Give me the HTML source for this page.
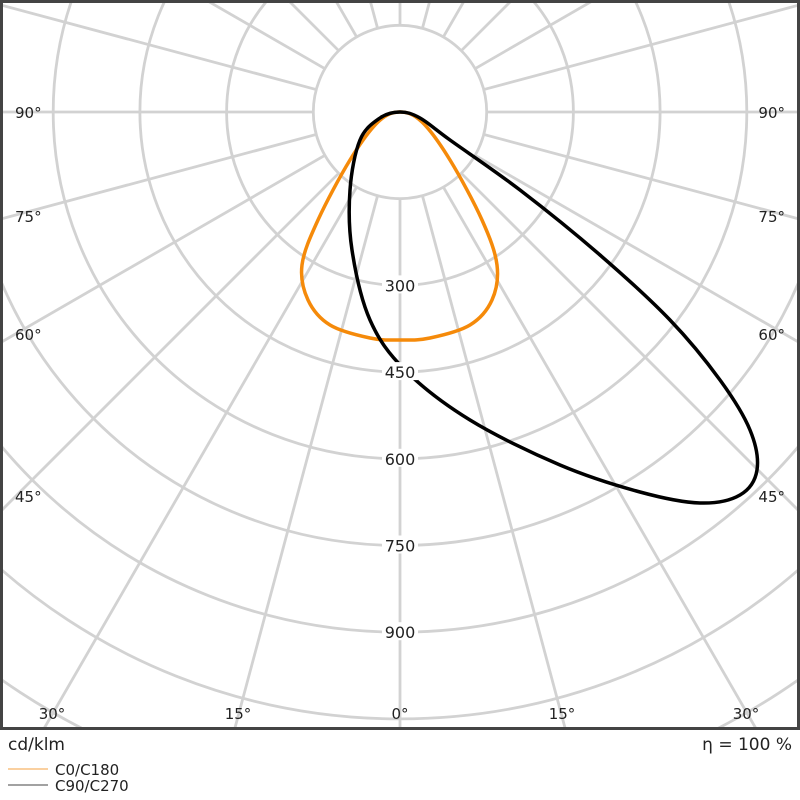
<!DOCTYPE html>
<html><head><meta charset="utf-8"><style>
html,body{margin:0;background:#fff;width:800px;height:800px;overflow:hidden}
svg{display:block}
text{font-family:"DejaVu Sans","Liberation Sans",sans-serif;font-size:15px;fill:#222}
</style></head><body>
<svg id="s" width="800" height="800" viewBox="0 0 800 800">
<defs><clipPath id="c"><rect x="2" y="2" width="796" height="726"/></clipPath></defs>
<g id="grid" clip-path="url(#c)" stroke="#d2d2d2" stroke-width="2.8" fill="none"></g>
<g id="curves" clip-path="url(#c)" fill="none" stroke-width="3.5" stroke-linejoin="round"></g>
<g id="lbl" text-anchor="middle"></g>
<rect x="1.5" y="1.5" width="797" height="727" fill="none" stroke="#444" stroke-width="3"/>
<text x="8" y="750" style="font-size:17px">cd/klm</text>
<text x="792" y="750" text-anchor="end" style="font-size:17px">η = 100 %</text>
<line x1="8" y1="769" x2="48" y2="769" stroke="#f5a040" stroke-width="1"/>
<line x1="8" y1="785" x2="48" y2="785" stroke="#444" stroke-width="1"/>
<text x="55" y="775" style="font-size:15px">C0/C180</text>
<text x="55" y="791" style="font-size:15px">C90/C270</text>
<text x="15" y="118">90°</text><text x="15" y="222">75°</text><text x="15" y="340">60°</text><text x="15" y="502">45°</text>
<text x="785" y="118" text-anchor="end">90°</text><text x="785" y="222" text-anchor="end">75°</text><text x="785" y="340" text-anchor="end">60°</text><text x="785" y="502" text-anchor="end">45°</text>
<text x="52" y="719" text-anchor="middle">30°</text><text x="238" y="719" text-anchor="middle">15°</text><text x="400" y="719" text-anchor="middle">0°</text>
<text x="562" y="719" text-anchor="middle">15°</text><text x="746" y="719" text-anchor="middle">30°</text>
</svg>
<script>
const NS="http://www.w3.org/2000/svg",cx=400,cy=112,u=86.7;
const g=document.getElementById('grid'),cv=document.getElementById('curves'),lb=document.getElementById('lbl');
function el(p,t,a){const e=document.createElementNS(NS,t);for(const k in a)e.setAttribute(k,a[k]);p.appendChild(e);return e;}
for(let i=1;i<=9;i++)el(g,'circle',{cx,cy,r:i*u});
for(let a=0;a<360;a+=15){const t=a*Math.PI/180;el(g,'line',{x1:cx+u*Math.sin(t),y1:cy+u*Math.cos(t),x2:cx+1200*Math.sin(t),y2:cy+1200*Math.cos(t)});}
[300,450,600,750,900].forEach((v,i)=>{const y=cy+(i+2)*u;el(lb,'rect',{x:382,y:y-10,width:36,height:18,fill:'#fff'});const t=el(lb,'text',{x:400,y:y+6,style:'font-size:16px'});t.textContent=v;});
function cr(p){let d=`M${p[0][0]},${p[0][1]}`;const n=p.length;for(let i=0;i<n;i++){const p0=p[(i-1+n)%n],p1=p[i],p2=p[(i+1)%n],p3=p[(i+2)%n];d+=`C${p1[0]+(p2[0]-p0[0])/6},${p1[1]+(p2[1]-p0[1])/6} ${p2[0]-(p3[0]-p1[0])/6},${p2[1]-(p3[1]-p1[1])/6} ${p2[0]},${p2[1]}`;}return d+'Z';}
const o=[[400,112],[378,122],[350,160],[318,220],[302,265],[308,300],[330,325],[370,338],[400,340],[430,338],[470,325],[492,300],[497,265],[482,220],[450,160],[422,122]];
const b=[[400,112],[380,118],[360,140],[350,190],[352,250],[370,320],[405,370],[470,420],[560,465],[640,492],[700,503],[740,495],[757,470],[750,430],[720,380],[670,320],[600,255],[520,190],[450,140],[420,118]];
el(cv,'path',{d:cr(o),stroke:'#f58a0a'});
el(cv,'path',{d:cr(b),stroke:'#000'});
</script>
</body></html>
